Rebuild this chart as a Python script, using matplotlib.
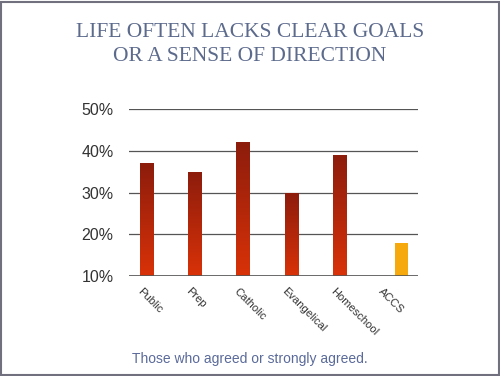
import numpy as np
import matplotlib.pyplot as plt
from matplotlib.colors import LinearSegmentedColormap
from matplotlib.patches import Rectangle

categories = ['Public', 'Prep', 'Catholic', 'Evangelical', 'Homeschool', 'ACCS']
schools = [37, 35, 42, 30, 39, np.nan]
accs = [np.nan, np.nan, np.nan, np.nan, np.nan, 18]
yticks = [10, 20, 30, 40, 50]

fig = plt.figure(figsize=(5, 3.76), dpi=100)
ax = fig.add_axes([0.258, 0.266, 0.578, 0.444])

red_grad = LinearSegmentedColormap.from_list('redgrad', ['#d93208', '#8c1c0c'])
x = np.arange(len(categories))
w = 13 / 48

# grouped bars: the two series sit side by side in each slot
bars1 = ax.bar(x + 17.5 / 48, schools, width=w, bottom=0, color='none', zorder=3)
bars2 = ax.bar(x + 31.5 / 48, accs, width=w, color='#f5a90c', zorder=3)

# paint a vertical gradient into each red bar
grad = np.linspace(0, 1, 256).reshape(-1, 1)
for b in bars1:
    h = b.get_height()
    if np.isnan(h):
        continue
    x0 = b.get_x()
    im = ax.imshow(grad, cmap=red_grad, origin='lower', aspect='auto',
                   extent=[x0, x0 + b.get_width(), 10, h], zorder=3)
    im.set_clip_path(b)

ax.set_xlim(0, 6)
ax.set_ylim(10, 50)
ax.set_yticks(yticks)
ax.set_yticklabels([f'{v}%' for v in yticks], family='Liberation Sans')
ax.grid(axis='y', color='#555555', linewidth=0.9, zorder=1)
ax.axhline(10, color='#555555', linewidth=1.2, zorder=4)
for s in ax.spines.values():
    s.set_visible(False)
ax.tick_params(axis='y', length=0, pad=11, labelsize=11.5, labelcolor='#333333')
ax.tick_params(axis='x', length=0)
ax.set_xticks([])

for i, c in enumerate(categories):
    ax.text(i + 14 / 48, 7.6, c, rotation=-45, ha='left', va='top',
            rotation_mode='anchor', fontsize=8, color='#333333',
            family='Liberation Sans')

fig.text(0.5, 0.914, 'LIFE OFTEN LACKS CLEAR GOALS', ha='center', va='center',
         family='Liberation Serif', fontsize=15.5, color='#5c6a8c')
fig.text(0.5, 0.85, 'OR A SENSE OF DIRECTION', ha='center', va='center',
         family='Liberation Serif', fontsize=15.5, color='#5c6a8c')
fig.text(0.5, 0.045, 'Those who agreed or strongly agreed.', ha='center', va='center',
         family='Liberation Sans', fontsize=10, color='#5a6a9a')

fig.patches.append(Rectangle((0.002, 0.003), 0.995, 0.993, transform=fig.transFigure,
                             fill=False, edgecolor='#70707e', linewidth=1.5))

fig.savefig('out.png', dpi=100)
